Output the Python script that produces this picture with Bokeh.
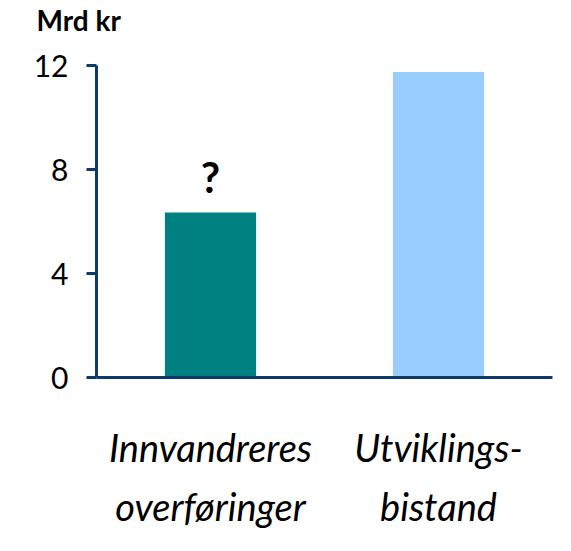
from bokeh.plotting import figure
from bokeh.models import FixedTicker, Label, Range1d
from bokeh.embed import file_html
from bokeh.resources import INLINE

categories = ["Innvandreres\noverføringer", "Utviklings-\nbistand"]
values = [6.35, 11.75]
colors = ["#008080", "#99CCFF"]
y_ticks = [0, 4, 8, 12]
unit_label = "Mrd kr"
note = "?"

xs = [1, 2]
AXIS = "#0B3A6B"
FONT = "Lato"

p = figure(width=555, height=535, output_backend="svg", toolbar_location=None,
           x_range=Range1d(0.5, 2.5), y_range=Range1d(0, 12),
           title=unit_label + "\n\u00a0")
p.frame_width = 456
p.frame_height = 312
p.min_border_left = 96
p.min_border_right = 3
p.min_border_top = 65
p.min_border_bottom = 150
p.outline_line_color = None
p.xgrid.grid_line_color = None
p.ygrid.grid_line_color = None
p.background_fill_color = "white"
p.border_fill_color = "white"

p.title.text_font = FONT
p.title.text_font_style = "bold"
p.title.text_font_size = "28px"
p.title.text_color = "black"
p.title.align = "left"
p.title.offset = -60
p.title.standoff = 0
p.title.text_line_height = 0.85

p.vbar(x=xs, top=values, width=0.4, color=colors, line_color=None)

ya = p.yaxis[0]
ya.ticker = FixedTicker(ticks=y_ticks, minor_ticks=[])
ya.axis_line_color = AXIS
ya.axis_line_width = 3
ya.major_tick_line_color = AXIS
ya.major_tick_line_width = 3
ya.major_tick_out = 10
ya.major_tick_in = 0
ya.minor_tick_line_color = None
ya.major_label_text_font = FONT
ya.major_label_text_font_size = "30px"
ya.major_label_text_color = "black"
ya.major_label_standoff = 18

xa = p.xaxis[0]
xa.ticker = FixedTicker(ticks=xs, minor_ticks=[])
xa.major_label_overrides = {x: c for x, c in zip(xs, categories)}
xa.axis_line_color = AXIS
xa.axis_line_width = 3
xa.major_tick_line_color = None
xa.minor_tick_line_color = None
xa.major_label_text_font = FONT
xa.major_label_text_font_style = "italic"
xa.major_label_text_font_size = "38px"
xa.major_label_text_color = "black"
xa.major_label_standoff = 40
xa.major_label_text_line_height = 1.3

p.add_layout(Label(x=xs[0], y=values[0] + 0.4, text=note, text_font=FONT,
                   text_font_style="bold", text_font_size="42px",
                   text_align="center", text_color="black"))

open("out.html", "w").write(file_html(p, INLINE))
